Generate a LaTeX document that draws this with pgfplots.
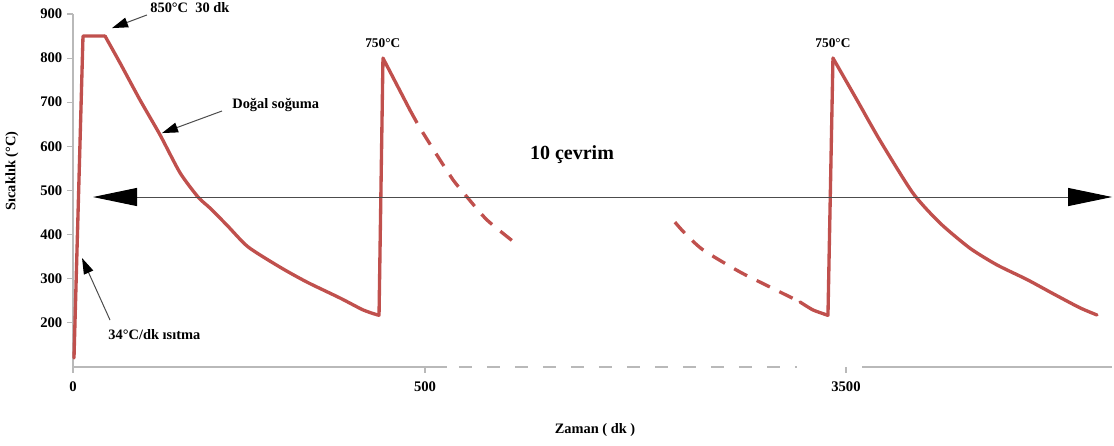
\documentclass[border=0pt]{standalone}
\usepackage{pgfplots}
\pgfplotsset{compat=1.18}
\usepackage{fontspec}
\setmainfont{Liberation Serif}
\usetikzlibrary{arrows.meta}
\definecolor{cred}{RGB}{192,80,77}
\definecolor{axgray}{RGB}{185,185,185}
\begin{document}
\begin{tikzpicture}
\begin{axis}[
  scale only axis, width=779.25pt, height=264.6pt,
  xmin=0, xmax=1476, ymin=100, ymax=900,
  axis lines=left,
  x axis line style={draw=none},
  y axis line style={draw=axgray, line width=1.1pt, -},
  xtick={0,500,1098}, xticklabels={0,500,3500},
  ytick={200,300,...,900},
  tick align=outside,
  major tick length=4.5pt,
  tick style={axgray, line width=0.8pt},
  ticklabel style={font=\bfseries\fontsize{11}{12}\selectfont},
  xticklabel style={yshift=-3pt},
  /pgf/number format/assume math mode=true,
  clip=false,
  every axis plot/.append style={cred, line width=2.5pt, line join=round},
]
% x axis (broken)
\draw[axgray, line width=1.2pt] (axis cs:0,100) -- (axis cs:531,100);
\draw[axgray, line width=1.2pt, dash pattern=on 10pt off 11pt] (axis cs:548,100) -- (axis cs:1028,100);
\draw[axgray, line width=1.2pt] (axis cs:1121,100) -- (axis cs:1476,100);

% cycle 1
\addplot[line cap=round] coordinates {
(1.4,120) (14.2,850) (45.5,850)
};
\addplot[smooth, tension=0.4, line cap=round] coordinates {
(45.5,850) (66.8,789) (95.2,705) (123.6,626) (152,540)
(177.6,485) (194.6,460) (218.8,421) (248.6,372) (294,326)
(332.4,292) (379.3,256) (412,229) (431.8,218)
};
\addplot[line cap=round] coordinates {
(431.8,218) (434.7,217) (440.3,800) (478.7,682)
};
\addplot[smooth, tension=0.4, dash pattern=on 11pt off 8pt] coordinates {
(478.7,682) (492.9,641.5) (517,580) (539.8,524) (559.7,485) (588,433) (627.8,381)
};
% cycle 10
\addplot[smooth, tension=0.4, dash pattern=on 11pt off 8pt] coordinates {
(855,428) (869,403) (895,365) (947.4,315) (990,281) (1032.7,247)
};
\addplot[smooth, tension=0.4, line cap=round] coordinates {
(1032.7,247) (1051,229) (1071,217.5)
};
\addplot[line cap=round] coordinates {
(1071,217.5) (1072.4,217) (1079.5,800)
};
\addplot[smooth, tension=0.4, line cap=round] coordinates {
(1079.5,800) (1113.6,705)
(1146,614) (1193,494) (1231.5,426) (1274,369) (1312.5,331) (1355,298)
(1392,266) (1430,234) (1454.5,217.5)
};

% cycle arrow
\draw[black!70, line width=0.75pt,
  {Triangle[length=33pt,width=13.5pt,color=black]}-{Triangle[length=33pt,width=13.5pt,color=black]}]
  (axis cs:28.4,485) -- (axis cs:1476,485);
\node[font=\bfseries\fontsize{15}{18}\selectfont] at (axis cs:708.8,580) {10 çevrim};

% annotations
\node[font=\bfseries\fontsize{10.8}{12}\selectfont] at (axis cs:166,914) {850°C\ \ 30 dk};
\draw[black!70, line width=0.75pt, -{Triangle[length=12pt,width=7.5pt,color=black]}]
  (axis cs:105,897.7) -- (axis cs:55.4,868);
\node[font=\bfseries\fontsize{10.8}{12}\selectfont, anchor=west, inner sep=0pt] at (axis cs:226,694) {Doğal soğuma};
\draw[black!70, line width=0.75pt, -{Triangle[length=12pt,width=7.5pt,color=black]}]
  (axis cs:211.6,680) -- (axis cs:126.4,630);
\node[font=\bfseries\fontsize{10.8}{12}\selectfont, anchor=west, inner sep=0pt] at (axis cs:50,174) {34°C/dk ısıtma};
\draw[black!70, line width=0.75pt, -{Triangle[length=12pt,width=7.5pt,color=black]}]
  (axis cs:52.6,206) -- (axis cs:12.8,346.7);
\node[font=\bfseries\fontsize{10}{12}\selectfont] at (axis cs:440,834) {750°C};
\node[font=\bfseries\fontsize{10}{12}\selectfont] at (axis cs:1079.5,834) {750°C};

% axis labels
\node[font=\bfseries\fontsize{10.8}{12}\selectfont, rotate=90] at (axis cs:-86.6,544) {Sıcaklık (°C)};
\node[font=\bfseries\fontsize{10.8}{12}\selectfont] at (axis cs:741.5,-43) {Zaman ( dk )};

\coordinate (BL) at (axis cs:-103.7,-77.3);
\coordinate (TR) at (axis cs:1478.7,931.7);
\end{axis}
\pgfresetboundingbox
\path[use as bounding box] (BL) rectangle (TR);
\end{tikzpicture}
\end{document}
